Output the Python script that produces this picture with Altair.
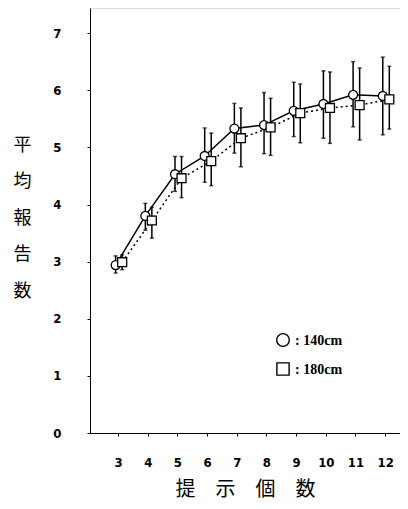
import altair as alt
import pandas as pd

n_items = [3, 4, 5, 6, 7, 8, 9, 10, 11, 12]
mean_140 = [2.94, 3.80, 4.53, 4.85, 5.33, 5.39, 5.64, 5.76, 5.92, 5.90]
lo_140 = [2.80, 3.55, 4.23, 4.39, 4.90, 4.89, 5.19, 5.16, 5.36, 5.22]
hi_140 = [3.10, 4.02, 4.84, 5.34, 5.77, 5.96, 6.14, 6.34, 6.50, 6.58]
mean_180 = [2.99, 3.72, 4.46, 4.76, 5.16, 5.35, 5.60, 5.69, 5.74, 5.84]
lo_180 = [2.86, 3.41, 4.12, 4.33, 4.66, 4.86, 5.08, 5.07, 5.13, 5.32]
hi_180 = [3.12, 3.95, 4.84, 5.25, 5.69, 5.86, 6.11, 6.32, 6.39, 6.42]
series = ["140cm", "180cm"]
shapes = ["circle", "square"]
offsets = {"140cm": -0.08, "180cm": 0.14}

rows = []
for s, m, lo, hi in [("140cm", mean_140, lo_140, hi_140), ("180cm", mean_180, lo_180, hi_180)]:
    for i, n in enumerate(n_items):
        rows.append({"series": s, "n": n, "xp": n + offsets[s], "mean": m[i], "lo": lo[i], "hi": hi[i]})
df = pd.DataFrame(rows)

font_num = "Liberation Sans Narrow, DejaVu Sans Condensed, sans-serif"
cjk = "Noto Sans CJK JP"

x = alt.X("xp:Q", scale=alt.Scale(domain=[2.056, 12.5], nice=False, zero=False),
          axis=alt.Axis(values=n_items, tickCount=len(n_items), format="d", title="提　示　個　数",
                        grid=False, tickSize=3, labelOverlap=False, labelFlush=False,
                        labelFont=font_num, labelFontSize=13, labelFontWeight="bold",
                        labelPadding=20, titleFont=cjk, titleFontSize=20, titleFontWeight="normal",
                        titlePadding=10, domainColor="black", tickColor="black", labelColor="black",
                        titleColor="black"))
y = alt.Y("mean:Q", scale=alt.Scale(domain=[0, 7.44], nice=False),
          axis=alt.Axis(values=list(range(8)), tickCount=8, format="d", title=["平", "均", "報", "告", "数"],
                        grid=False, tickSize=3, labelOverlap=False, labelFlush=False,
                        labelFont=font_num, labelFontSize=13, labelFontWeight="bold", labelPadding=26,
                        titleFont=cjk, titleFontSize=18, titleFontWeight="normal", titleAngle=0,
                        titleLineHeight=36.5, titleX=-68, titleY=128, titleAlign="center",
                        titleBaseline="top", domainColor="black", tickColor="black",
                        labelColor="black", titleColor="black"))

shape = alt.Shape("series:N", scale=alt.Scale(domain=series, range=shapes), legend=None)

base = alt.Chart(df)
line140 = base.transform_filter(alt.datum.series == "140cm").mark_line(
    color="black", strokeWidth=1.5).encode(x=x, y=y)
line180 = base.transform_filter(alt.datum.series == "180cm").mark_line(
    color="black", strokeWidth=1.5, strokeDash=[2, 3]).encode(x="xp:Q", y="mean:Q")
bars = base.mark_rule(color="black", strokeWidth=1.5).encode(x="xp:Q", y="lo:Q", y2="hi:Q")
cap_lo = base.mark_tick(color="black", size=4, thickness=1.5, orient="horizontal").encode(x="xp:Q", y="lo:Q")
cap_hi = base.mark_tick(color="black", size=4, thickness=1.5, orient="horizontal").encode(x="xp:Q", y="hi:Q")
pts = base.mark_point(filled=False, color="black", fill="white", fillOpacity=1, stroke="black",
                      strokeWidth=1.3, size=80, opacity=1).encode(
    x="xp:Q", y="mean:Q", shape=shape)

# legend (drawn as its own small marks)
legend_layers = []
for i, (s, shp) in enumerate(zip(series, shapes)):
    ldf = pd.DataFrame({"label": [": " + s]})
    ly = 332 + i * 29
    legend_layers.append(alt.Chart(ldf).mark_point(
        shape=shp, filled=False, fill="white", fillOpacity=1, color="black", strokeWidth=1.4,
        size=160 if shp == "circle" else 150, opacity=1).encode(x=alt.value(193), y=alt.value(ly)))
    legend_layers.append(alt.Chart(ldf).mark_text(
        align="left", baseline="middle", font="Liberation Serif", fontSize=14, fontWeight="bold",
        color="black").encode(x=alt.value(205), y=alt.value(ly + 1), text="label:N"))

chart = alt.layer(line140, line180, bars, cap_lo, cap_hi, pts, *legend_layers).properties(
    width=310, height=425,
    autosize=alt.AutoSizeParams(type="none"),
    padding={"left": 82, "top": 0, "right": 0, "bottom": 68},
).configure_view(stroke=None).configure(background="white").configure_axis(
    labelOverlap=False, labelFlush=False, labelBound=False
)

chart.save("out.html", embed_options={"renderer": "svg", "actions": False})
